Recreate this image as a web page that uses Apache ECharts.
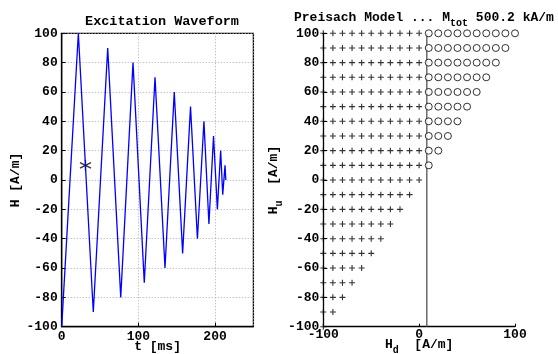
<!DOCTYPE html>
<html>
<head>
<meta charset="utf-8">
<script src="https://cdn.jsdelivr.net/npm/echarts@6/dist/echarts.min.js"></script>
<style>
html, body { margin: 0; padding: 0; background: #fff; }
#main { width: 558px; height: 354px; }
</style>
</head>
<body>
<div id="main"></div>
<script>
var chartDom = document.getElementById('main');
var myChart = echarts.init(chartDom);

var fontName = 'Liberation Mono';

// excitation waveform: turning points, t in ms, H in A/m
var waveT = [0, 21.7, 41.2, 60, 77, 93, 107.7, 121.7, 134.7, 146.8, 157.7, 168, 177, 185.5, 192, 198, 203, 207.3, 210, 213, 214];
var waveH = [-100, 100, -90, 90, -80, 80, -70, 70, -60, 60, -50, 50, -40, 40, -30, 30, -20, 20, -10, 10, 0];
// current point (the *)
var markT = 31;
var markH = 10;

// Preisach plane: one row per H_u, how many '+' (from H_d=-100) and 'o' (from H_d=10)
var rowHu = [100, 90, 80, 70, 60, 50, 40, 30, 20, 10, 0, -10, -20, -30, -40, -50, -60, -70, -80, -90, -100];
var plusCount = [11, 11, 11, 11, 11, 11, 11, 11, 11, 11, 11, 10, 9, 8, 7, 6, 5, 4, 3, 2, 1];
var circleCount = [10, 9, 8, 7, 6, 5, 4, 3, 2, 1, 0, 0, 0, 0, 0, 0, 0, 0, 0, 0, 0];
var gridStep = 10;
var gridStart = -100;
var switchLine = 8;   // vertical line in the plane
var mTot = '500.2';

var plusData = [];
var circleData = [];
rowHu.forEach(function (hu, i) {
    for (var k = 0; k < plusCount[i]; k++) plusData.push([gridStart + k * gridStep, hu]);
    for (var k = 0; k < circleCount[i]; k++) circleData.push([(k + 1) * gridStep, hu]);
});
var waveData = waveT.map(function (t, i) { return [t, waveH[i]]; });

var labelStyle = {
    color: '#000',
    fontFamily: fontName,
    fontWeight: 'bold',
    fontSize: 13
};
var nameStyle = {
    color: '#000',
    fontFamily: fontName,
    fontWeight: 'bold',
    fontSize: 13,
    rich: {
        a: { fontFamily: fontName, fontWeight: 'bold', fontSize: 13, color: '#000' },
        s: { fontFamily: fontName, fontWeight: 'bold', fontSize: 10, color: '#000', padding: [11, 0, 0, 0] }
    }
};

option = {
    backgroundColor: '#fff',
    animation: false,
    title: [{
        text: 'Excitation Waveform',
        left: 157,
        top: 10,
        textAlign: 'center',
        textStyle: { fontFamily: fontName, fontWeight: 'bold', fontSize: 13.5, color: '#000' }
    }, {
        text: '{a|Preisach Model ... M}{s|tot}{a| ' + mTot + ' kA/m}',
        left: 289,
        top: 2,
        textStyle: {
            rich: {
                a: { fontFamily: fontName, fontWeight: 'bold', fontSize: 13, color: '#000' },
                s: { fontFamily: fontName, fontWeight: 'bold', fontSize: 10, color: '#000', padding: [11, 0, 0, 0] }
            }
        }
    }],
    grid: [
        { left: 61.7, top: 33.3, width: 191.7, height: 293.4, outerBoundsMode: 'none', show: true, borderColor: '#000', borderWidth: 1.3, backgroundColor: 'transparent' },
        { left: 323.3, top: 33.3, width: 191.7, height: 293.4, outerBoundsMode: 'none' }
    ],
    xAxis: [{
        gridIndex: 0, type: 'value', min: 0, max: 250, interval: 100,
        name: 't [ms]', nameLocation: 'middle', nameGap: 14, nameMoveOverlap: false, nameTextStyle: nameStyle,
        axisLine: { onZero: false, lineStyle: { color: '#000', width: 1.3 } },
        axisTick: { inside: true, length: 4, lineStyle: { color: '#000' } },
        axisLabel: Object.assign({ margin: 4, showMaxLabel: false }, labelStyle),
        splitLine: { show: true, lineStyle: { color: '#aaa', type: [1, 2], width: 1 } }
    }, {
        gridIndex: 1, type: 'value', min: -100, max: 100, interval: 100,
        name: '{a|H}{s|d}{a|  [A/m]}', nameLocation: 'middle', nameGap: 8, nameMoveOverlap: false, nameTextStyle: nameStyle,
        axisLine: { onZero: false, lineStyle: { color: '#000', width: 1.3 } },
        axisTick: { inside: true, length: 3, lineStyle: { color: '#000' } },
        axisLabel: Object.assign({ margin: 2 }, labelStyle),
        splitLine: { show: false }
    }],
    yAxis: [{
        gridIndex: 0, type: 'value', min: -100, max: 100, interval: 20,
        name: 'H [A/m]', nameLocation: 'middle', nameGap: 37, nameTextStyle: nameStyle,
        axisLine: { onZero: false, lineStyle: { color: '#000', width: 1.3 } },
        axisTick: { inside: true, length: 4, lineStyle: { color: '#000' } },
        axisLabel: Object.assign({ margin: 4 }, labelStyle),
        splitLine: { show: true, lineStyle: { color: '#aaa', type: [1, 2], width: 1 } }
    }, {
        gridIndex: 1, type: 'value', min: -100, max: 100, interval: 20,
        name: '{a|H}{s|u}{a|  [A/m]}', nameLocation: 'middle', nameGap: 37, nameTextStyle: nameStyle,
        axisLine: { onZero: false, lineStyle: { color: '#000', width: 1.3 } },
        axisTick: { inside: true, length: 4, lineStyle: { color: '#000' } },
        axisLabel: Object.assign({ margin: 4 }, labelStyle),
        splitLine: { show: false }
    }],
    series: [{
        name: 'H(t)',
        type: 'line',
        xAxisIndex: 0, yAxisIndex: 0,
        data: waveData,
        showSymbol: false,
        clip: false,
        lineStyle: { color: '#0000ff', width: 1.3 }
    }, {
        name: 'now',
        type: 'scatter',
        xAxisIndex: 0, yAxisIndex: 0,
        data: [[markT, markH]],
        symbol: 'path://M5,0L5,10M0.67,2.5L9.33,7.5M0.67,7.5L9.33,2.5',
        symbolSize: 11,
        clip: false,
        itemStyle: { color: 'none', borderColor: '#000', borderWidth: 1.3 }
    }, {
        name: 'plus',
        type: 'scatter',
        xAxisIndex: 1, yAxisIndex: 1,
        data: plusData,
        symbol: 'path://M0,5L10,5M5,0L5,10',
        symbolSize: 6,
        clip: false,
        itemStyle: { color: 'none', borderColor: '#000', borderWidth: 1.1 }
    }, {
        name: 'circle',
        type: 'scatter',
        xAxisIndex: 1, yAxisIndex: 1,
        data: circleData,
        symbol: 'circle',
        symbolSize: 7,
        clip: false,
        itemStyle: { color: '#fff', borderColor: '#000', borderWidth: 1 }
    }, {
        name: 'switch',
        type: 'line',
        xAxisIndex: 1, yAxisIndex: 1,
        data: [[switchLine, -100], [switchLine, 100]],
        showSymbol: false,
        clip: false,
        z: 1,
        lineStyle: { color: '#555', width: 1.3 }
    }]
};

myChart.setOption(option);
</script>
</body>
</html>
